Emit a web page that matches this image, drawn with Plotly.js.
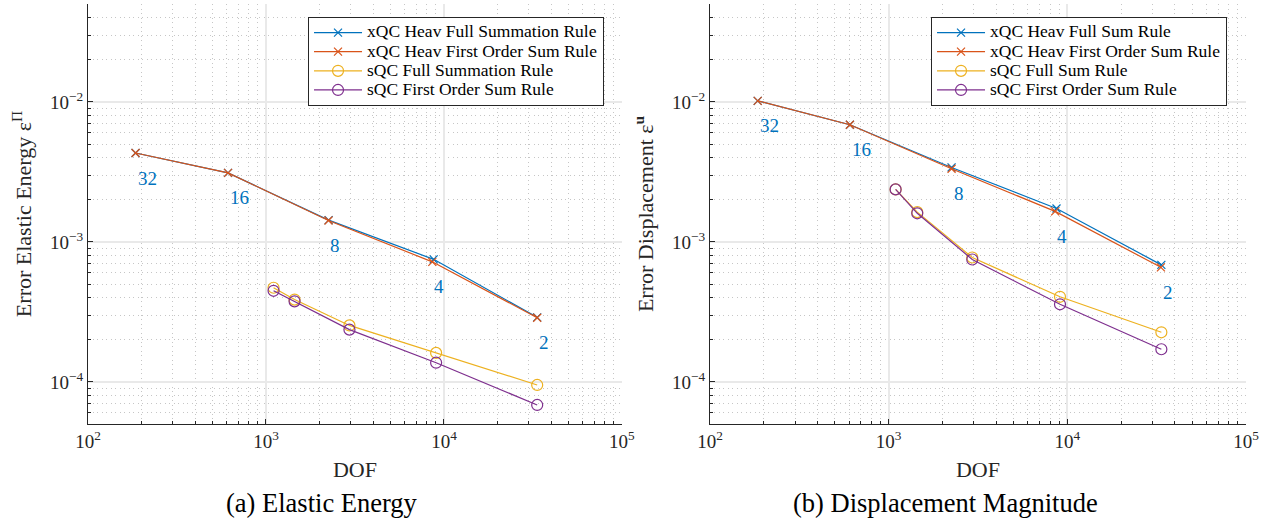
<!DOCTYPE html>
<html>
<head>
<meta charset="utf-8">
<script src="https://cdn.plot.ly/plotly-3.0.1.min.js"></script>
<style>
  html, body { margin: 0; padding: 0; background: #fff; }
  #chart { width: 1270px; height: 523px; }
</style>
</head>
<body>
<div id="chart"></div>
<script>
// Mesh refinement labels (coarsening factor) shown next to the xQC points
const meshLabels = ["32", "16", "8", "4", "2"];

// (a) Elastic energy error vs DOF
const dofXqcFullA  = [185, 612, 2250, 8750, 33400];
const errXqcFullA  = [4.31e-3, 3.11e-3, 1.43e-3, 7.5e-4, 2.89e-4];
const dofXqcFirstA = [185, 612, 2244, 8600, 33400];
const errXqcFirstA = [4.31e-3, 3.11e-3, 1.42e-3, 7.2e-4, 2.87e-4];
const dofSqcA      = [1103, 1447, 2944, 9035, 33400];
const errSqcFullA  = [4.70e-4, 3.87e-4, 2.53e-4, 1.61e-4, 9.5e-5];
const errSqcFirstA = [4.47e-4, 3.76e-4, 2.36e-4, 1.37e-4, 6.84e-5];

// (b) Displacement error vs DOF
const dofXqcFullB  = [185, 607, 2250, 8700, 33600];
const errXqcFullB  = [1.017e-2, 6.86e-3, 3.40e-3, 1.73e-3, 6.85e-4];
const dofXqcFirstB = [185, 607, 2250, 8550, 33400];
const errXqcFirstB = [1.017e-2, 6.86e-3, 3.33e-3, 1.65e-3, 6.58e-4];
const dofSqcB      = [1094, 1446, 2938, 9100, 33600];
const errSqcFullB  = [2.37e-3, 1.63e-3, 7.73e-4, 4.05e-4, 2.26e-4];
const errSqcFirstB = [2.37e-3, 1.60e-3, 7.48e-4, 3.58e-4, 1.71e-4];

const legendNamesA = ["xQC Heav Full Summation Rule", "xQC Heav First Order Sum Rule",
                      "sQC Full Summation Rule", "sQC First Order Sum Rule"];
const legendNamesB = ["xQC Heav Full Sum Rule", "xQC Heav First Order Sum Rule",
                      "sQC Full Sum Rule", "sQC First Order Sum Rule"];

const C_BLUE = "#0072BD", C_ORANGE = "#D95319", C_YELLOW = "#EDB120", C_PURPLE = "#7E2F8E";
const SERIF = "Liberation Serif, serif";
const INK = "#262626";

// legend rows are laid out with a compact line height; the entry text itself is a bit larger
function legendText(s) {
  return '<span style="font-size:17.5px">' + s + "</span>";
}

function series(x, y, name, color, symbol, size, xa, ya, legend) {
  return {
    x: x, y: y, name: legendText(name), xaxis: xa, yaxis: ya, legend: legend,
    type: "scatter", mode: "lines+markers",
    line: { color: color, width: 1.2 },
    marker: { symbol: symbol, size: size, color: color, line: { color: color, width: 1.2 } }
  };
}

const traces = [
  series(dofXqcFullA,  errXqcFullA,  legendNamesA[0], C_BLUE,   "x-thin-open", 8, "x", "y", "legend"),
  series(dofXqcFirstA, errXqcFirstA, legendNamesA[1], C_ORANGE, "x-thin-open", 8, "x", "y", "legend"),
  series(dofSqcA,      errSqcFullA,  legendNamesA[2], C_YELLOW, "circle-open", 11, "x", "y", "legend"),
  series(dofSqcA,      errSqcFirstA, legendNamesA[3], C_PURPLE, "circle-open", 11, "x", "y", "legend"),
  series(dofXqcFullB,  errXqcFullB,  legendNamesB[0], C_BLUE,   "x-thin-open", 8, "x2", "y2", "legend2"),
  series(dofXqcFirstB, errXqcFirstB, legendNamesB[1], C_ORANGE, "x-thin-open", 8, "x2", "y2", "legend2"),
  series(dofSqcB,      errSqcFullB,  legendNamesB[2], C_YELLOW, "circle-open", 11, "x2", "y2", "legend2"),
  series(dofSqcB,      errSqcFirstB, legendNamesB[3], C_PURPLE, "circle-open", 11, "x2", "y2", "legend2")
];

// minor log ticks 2..9 within each decade
function minorTicks(lo, hi) {
  const out = [];
  for (let e = lo; e < hi; e++) {
    for (let m = 2; m <= 9; m++) out.push(m * Math.pow(10, e));
  }
  return out;
}
function powLabel(e) {
  return "10<sup>" + (e < 0 ? "\u2212" + (-e) : e) + "</sup>";
}

const xMajor = [1e2, 1e3, 1e4, 1e5];
const yMajor = [1e-4, 1e-3, 1e-2];

const minorStyle = {
  ticks: "inside", ticklen: 3, tickcolor: INK,
  showgrid: true, gridcolor: "#c6c6c6", griddash: "1px,3.5px", gridwidth: 1
};

function xAxis(domain, anchor) {
  return {
    type: "log", domain: domain, anchor: anchor, range: [2, 5],
    tickmode: "array", tickvals: xMajor, ticktext: [2, 3, 4, 5].map(powLabel),
    ticks: "inside", ticklen: 5, tickwidth: 1, tickcolor: INK,
    showline: true, linecolor: INK, linewidth: 1, mirror: false,
    showgrid: true, gridcolor: "#e9e9e9", gridwidth: 1.8,
    zeroline: false,
    tickfont: { family: SERIF, size: 19, color: INK },
    minor: Object.assign({ tickmode: "array", tickvals: minorTicks(2, 5) }, minorStyle),
    title: { text: "DOF", font: { family: SERIF, size: 22, color: INK }, standoff: 10 }
  };
}
function yAxis(anchor, titleText) {
  return {
    type: "log", anchor: anchor, domain: [0, 1],
    range: [Math.log10(5e-5), Math.log10(5e-2)],
    tickmode: "array", tickvals: yMajor, ticktext: [-4, -3, -2].map(powLabel),
    ticks: "inside", ticklen: 5, tickwidth: 1, tickcolor: INK,
    showline: true, linecolor: INK, linewidth: 1, mirror: false,
    showgrid: true, gridcolor: "#e9e9e9", gridwidth: 1.8,
    zeroline: false,
    tickfont: { family: SERIF, size: 19, color: INK },
    minor: Object.assign({
      tickmode: "array",
      tickvals: minorTicks(-5, -1).filter(v => v >= 4.9e-5 && v <= 5.1e-2)
    }, minorStyle),
    title: { text: titleText, font: { family: SERIF, size: 22, color: INK }, standoff: 12 }
  };
}

function legendBox(x) {
  return {
    x: x, y: 0.969, xanchor: "left", yanchor: "top",
    bgcolor: "#ffffff", bordercolor: INK, borderwidth: 1,
    font: { family: SERIF, size: 12.4, color: "#000000" },
    tracegroupgap: 0, itemwidth: 48
  };
}

// mesh labels placed under the xQC first-order points
const annotations = [];
meshLabels.forEach((txt, i) => {
  annotations.push({
    xref: "x", yref: "y", x: Math.log10(dofXqcFirstA[i]), y: Math.log10(errXqcFirstA[i]),
    text: txt, showarrow: false, xanchor: "left", yanchor: "middle", yshift: -25,
    font: { family: SERIF, size: 19, color: C_BLUE }
  });
  annotations.push({
    xref: "x2", yref: "y2", x: Math.log10(dofXqcFirstB[i]), y: Math.log10(errXqcFirstB[i]),
    text: txt, showarrow: false, xanchor: "left", yanchor: "middle", yshift: -25,
    font: { family: SERIF, size: 19, color: C_BLUE }
  });
});
// sub-figure captions
annotations.push({
  xref: "paper", yref: "paper", x: 0.2025, y: -0.188, xanchor: "center", yanchor: "middle",
  text: "(a) Elastic Energy", showarrow: false,
  font: { family: SERIF, size: 26.5, color: "#000000" }
});
annotations.push({
  xref: "paper", yref: "paper", x: 0.7409, y: -0.188, xanchor: "center", yanchor: "middle",
  text: "(b) Displacement Magnitude", showarrow: false,
  font: { family: SERIF, size: 26.5, color: "#000000" }
});

const layout = {
  width: 1270, height: 523,
  margin: { l: 88, r: 24, t: 4, b: 99 },
  paper_bgcolor: "#ffffff", plot_bgcolor: "#ffffff",
  font: { family: SERIF, color: INK },
  showlegend: true,
  xaxis: xAxis([0, 0.4611], "y"),
  yaxis: yAxis("x", "Error Elastic Energy \u03B5<sup>\u03A0</sup>"),
  xaxis2: xAxis([0.5371, 1], "y2"),
  yaxis2: yAxis("x2", "Error Displacement \u03B5<sup><b>u</b></sup>"),
  legend: legendBox(0.19),
  legend2: legendBox(0.728),
  annotations: annotations
};

Plotly.newPlot("chart", traces, layout, { displayModeBar: false, staticPlot: true });
</script>
</body>
</html>
